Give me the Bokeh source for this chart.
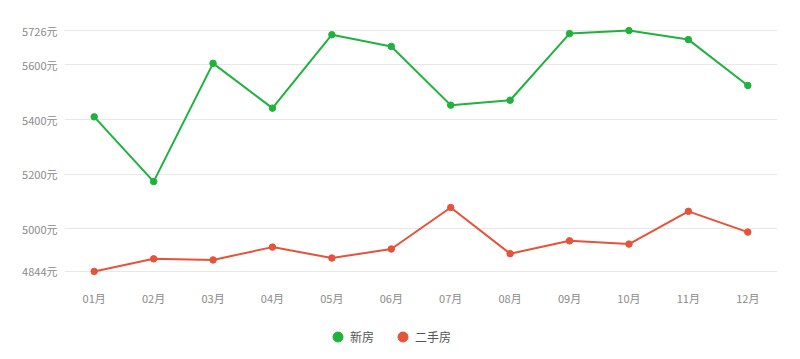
from bokeh.plotting import figure
from bokeh.layouts import column
from bokeh.models import Range1d, FactorRange, FixedTicker, Legend, LegendItem
from bokeh.embed import file_html
from bokeh.resources import INLINE

months = ["01月", "02月", "03月", "04月", "05月", "06月", "07月", "08月", "09月", "10月", "11月", "12月"]
new_house = [5410, 5173, 5606, 5442, 5711, 5668, 5453, 5471, 5715, 5726, 5693, 5525]
second_house = [4844, 4890, 4886, 4933, 4893, 4926, 5078, 4909, 4956, 4944, 5064, 4988]
y_ticks = [4844, 5000, 5200, 5400, 5600, 5726]
y_min, y_max = 4844, 5726
series_names = ["新房", "二手房"]

GREEN = "#1fb23c"
RED = "#e5533a"
FONT = "Noto Sans CJK SC"

pad = 15
p = figure(width=784, height=308, x_range=FactorRange(*months, range_padding=0),
           y_range=Range1d(y_min - pad, y_max + pad),
           output_backend="svg", toolbar_location=None,
           min_border_left=64, min_border_right=7, min_border_top=26, min_border_bottom=31)
p.outline_line_color = None
p.background_fill_color = "white"

p.xgrid.grid_line_color = None
p.ygrid.grid_line_color = "#e8e8e8"
p.yaxis.ticker = FixedTicker(ticks=y_ticks)
p.yaxis.major_label_overrides = {t: f"{t}元" for t in y_ticks}

for ax in (p.xaxis, p.yaxis):
    ax.axis_line_color = None
    ax.major_tick_line_color = None
    ax.minor_tick_line_color = None
    ax.major_tick_out = 0
    ax.major_tick_in = 0
    ax.major_label_text_color = "#8a8a8a"
    ax.major_label_text_font = FONT
    ax.major_label_text_font_size = "11px"
p.yaxis.major_label_standoff = 7
p.xaxis.major_label_standoff = 14

p.line(months, new_house, line_color=GREEN, line_width=2)
p.scatter(months, new_house, size=6.5, fill_color=GREEN, line_color=GREEN)
p.line(months, second_house, line_color=RED, line_width=2)
p.scatter(months, second_house, size=6.5, fill_color=RED, line_color=RED)

# legend strip below the chart (proxy glyphs sit outside the visible range)
lf = figure(width=784, height=51, x_range=Range1d(0, 1), y_range=Range1d(0, 1),
            output_backend="svg", toolbar_location=None,
            x_axis_location=None, y_axis_location=None,
            min_border_left=0, min_border_right=0, min_border_top=0, min_border_bottom=0)
lf.outline_line_color = None
lf.xgrid.grid_line_color = None
lf.ygrid.grid_line_color = None
lg_new = lf.scatter([-5], [-5], size=10, fill_color=GREEN, line_color=GREEN)
lg_sec = lf.scatter([-5], [-5], size=10, fill_color=RED, line_color=RED)

legend = Legend(items=[LegendItem(label=series_names[0], renderers=[lg_new]),
                       LegendItem(label=series_names[1], renderers=[lg_sec])],
                orientation="horizontal", location=(261, 10),
                border_line_color=None, background_fill_alpha=0,
                padding=0, margin=0, spacing=16, glyph_width=25, glyph_height=25,
                label_standoff=-6, label_text_font=FONT, label_text_font_size="12px",
                label_text_color="#555555")
lf.add_layout(legend, "center")

layout = column(p, lf, spacing=0)
open("out.html", "w").write(file_html(layout, INLINE))
